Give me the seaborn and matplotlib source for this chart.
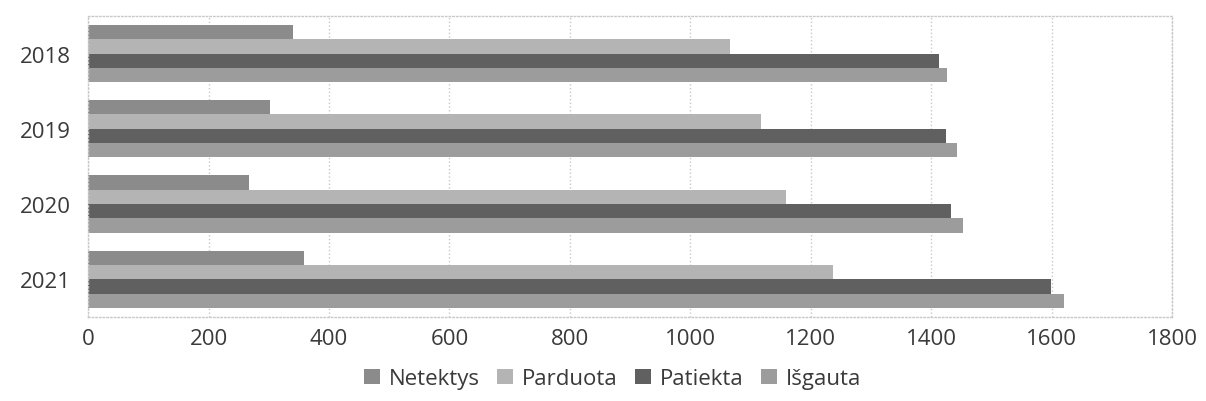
import pandas as pd
import matplotlib
matplotlib.use('Agg')
import matplotlib.pyplot as plt
import seaborn as sns

# values
years = ['2018', '2019', '2020', '2021']
series = ['Netektys', 'Parduota', 'Patiekta', 'Išgauta']
netektys = [340, 302, 268, 359]
parduota = [1066, 1117, 1159, 1236]
patiekta = [1413, 1424, 1433, 1599]
isgauta = [1426, 1443, 1453, 1621]
x_ticks = [0, 200, 400, 600, 800, 1000, 1200, 1400, 1600, 1800]

colors = ['#8b8b8b', '#b4b4b4', '#606060', '#9c9c9c']

# long form table for seaborn
rows = []
for name, vals in zip(series, [netektys, parduota, patiekta, isgauta]):
    for y, v in zip(years, vals):
        rows.append({'year': y, 'series': name, 'value': v})
df = pd.DataFrame(rows)

sns.set_theme(style='white')
plt.rcParams['font.family'] = ['Open Sans', 'DejaVu Sans']

fig = plt.figure(figsize=(12.06, 4.02), dpi=100)
ax = fig.add_axes([0.073, 0.209, 0.899, 0.749])

sns.barplot(data=df, y='year', x='value', hue='series', order=years,
            hue_order=series, palette=colors, orient='h', width=0.76,
            saturation=1, linewidth=0, ax=ax, legend=True)

ax.set_xlim(0, 1800)
ax.set_ylim(3.5, -0.5)
ax.set_xticks(x_ticks)
ax.set_xticklabels([str(t) for t in x_ticks])
ax.grid(axis='x', color='#c8c8c8', linestyle=':', linewidth=1)
ax.set_axisbelow(True)
for s in ax.spines.values():
    s.set_color('#c8c8c8')
    s.set_linestyle(':')
    s.set_linewidth(1)
ax.tick_params(axis='both', labelsize=16, colors='#3a3a3a', length=0)
ax.tick_params(axis='x', pad=8)
ax.tick_params(axis='y', pad=12)
ax.set_xlabel('')
ax.set_ylabel('')

handles, labels = ax.get_legend_handles_labels()
ax.get_legend().remove()
fig.legend(handles, labels, loc='center', bbox_to_anchor=(0.508, 0.055),
           ncol=4, frameon=False, fontsize=16, handlelength=0.7,
           handleheight=0.7, handletextpad=0.4, columnspacing=0.8,
           labelcolor='#3a3a3a')

fig.savefig('out.png', dpi=100)
